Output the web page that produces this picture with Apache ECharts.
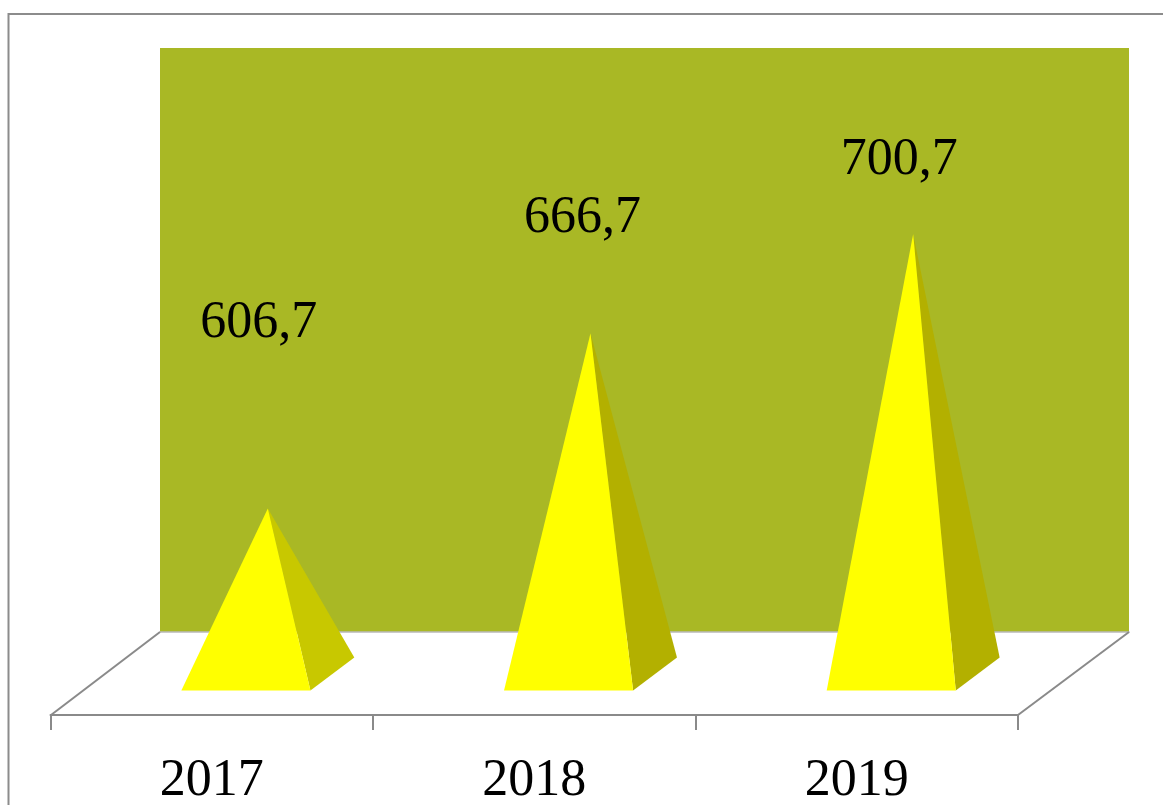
<!DOCTYPE html>
<html>
<head>
<meta charset="utf-8">
<style>html,body{margin:0;padding:0;background:#fff}#c{width:1163px;height:805px}</style>
<script src="https://cdn.jsdelivr.net/npm/echarts@6/dist/echarts.min.js"></script>
</head>
<body>
<div id="c"></div>
<script>
const categories = ['2017', '2018', '2019'];
const values = [606.7, 666.7, 700.7];
const valueLabels = ['606,7', '666,7', '700,7'];
const axisMin = 550;
const axisMax = 750;

const labelShift = [[-9, -185], [-8, -115], [-14, -74]];
const sideColors = ['#c8c800', '#b3b000', '#b3b000'];
const GREY = '#8a8a8a';
const FONT = '"Liberation Serif", "Times New Roman", serif';

const chart = echarts.init(document.getElementById('c'), null, { renderer: 'canvas' });

function yAxis(gridIndex) {
  return { type: 'value', gridIndex, min: axisMin, max: axisMax, show: false };
}

chart.setOption({
  animation: false,
  backgroundColor: '#fff',
  graphic: [{
    type: 'rect', silent: true, z: 0,
    shape: { x: 8.5, y: 14, width: 1300, height: 1000 },
    style: { fill: 'none', stroke: '#8c8c8c', lineWidth: 2 }
  }],
  grid: [
    { left: 160, top: 48, width: 969, height: 584, show: true, backgroundColor: '#a9b825', borderWidth: 0 },
    { left: 50.5, top: 131, width: 967.5, height: 584, show: false, outerBoundsMode: 'none' },
    { left: 106.5, top: 90, width: 968, height: 584, show: false }
  ],
  xAxis: [
    {
      type: 'category', gridIndex: 0, data: categories,
      axisLine: { show: true, lineStyle: { color: '#b9b9b9', width: 1.5 } },
      axisTick: { show: false }, axisLabel: { show: false }, splitLine: { show: false }
    },
    {
      type: 'category', gridIndex: 1, data: categories,
      axisLine: { show: true, lineStyle: { color: GREY, width: 2 } },
      axisTick: { show: true, length: 15, lineStyle: { color: GREY, width: 2 } },
      axisLabel: { show: true, color: '#000', fontFamily: FONT, fontSize: 52, margin: 40 },
      splitLine: { show: false }
    },
    { type: 'category', gridIndex: 2, data: categories, show: false }
  ],
  yAxis: [yAxis(0), yAxis(1), yAxis(2)],
  series: [
    {
      // floor side edges, from the wall's lower corners to the front axis ends
      type: 'custom', xAxisIndex: 0, yAxisIndex: 0, z: 2, silent: true,
      data: [[0, axisMin]],
      renderItem(params) {
        const r = params.coordSys;
        const bottom = r.y + r.height;
        const style = { stroke: GREY, lineWidth: 2, fill: 'none' };
        return {
          type: 'group',
          children: [
            { type: 'line', shape: { x1: r.x, y1: bottom, x2: 51, y2: 715 }, style },
            { type: 'line', shape: { x1: r.x + r.width, y1: bottom, x2: 1018, y2: 715 }, style }
          ]
        };
      }
    },
    {
      type: 'custom', xAxisIndex: 2, yAxisIndex: 2, z: 5,
      encode: { x: 0, y: 1 },
      data: values.map((v, i) => [i, v]),
      renderItem(params, api) {
        const i = params.dataIndex;
        const base = api.coord([api.value(0), axisMin]);
        const apex = api.coord([api.value(0), api.value(1)]);
        const band = api.size([1, 0])[0];
        const hw = band * 0.2;
        const dx = band * 0.068;
        const dy = 16.5;
        const fl = [base[0] - hw - dx, base[1] + dy];
        const fr = [base[0] + hw - dx, base[1] + dy];
        const br = [base[0] + hw + dx, base[1] - dy];
        return {
          type: 'group',
          children: [
            { type: 'polygon', shape: { points: [fr, br, apex] }, style: { fill: sideColors[i] } },
            { type: 'polygon', shape: { points: [fl, fr, apex] }, style: { fill: '#ffff00' } },
            {
              type: 'text',
              x: apex[0] + labelShift[i][0],
              y: apex[1] + labelShift[i][1],
              style: {
                text: valueLabels[i], fill: '#000',
                font: '52px ' + FONT, align: 'center', verticalAlign: 'middle'
              }
            }
          ]
        };
      }
    }
  ]
});
</script>
</body>
</html>
